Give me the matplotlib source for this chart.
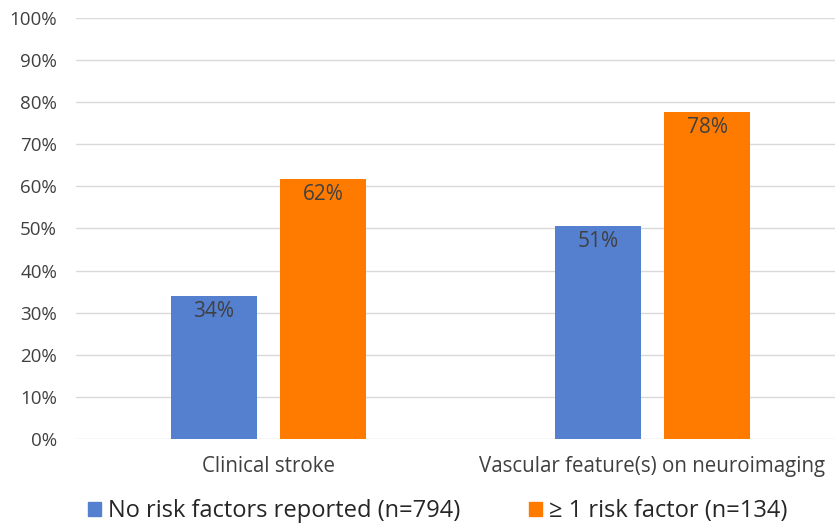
import numpy as np
import matplotlib.pyplot as plt
from matplotlib.patches import Patch

# --------------------------------------------------
# Data
# --------------------------------------------------

categories = ["Clinical stroke", "Vascular feature(s) on neuroimaging"]
series_names = ["No risk factors reported (n=794)", "\u2265 1 risk factor (n=134)"]
no_risk = [0.34, 0.506]
one_risk = [0.617, 0.776]
y_ticks = [0.0, 0.1, 0.2, 0.3, 0.4, 0.5, 0.6, 0.7, 0.8, 0.9, 1.0]

colors = ["#5580D0", "#FF7B00"]

plt.rcParams["font.family"] = ["Open Sans", "DejaVu Sans"]

# --------------------------------------------------
# Figure
# --------------------------------------------------

fig = plt.figure(figsize=(8.35, 5.27), dpi=100)
ax = fig.add_axes([0.0916, 0.167, 0.9198, 0.799])

x = np.arange(len(categories))
width = 0.224
offset = 0.142

for vals, off, col in zip([no_risk, one_risk], [-offset, offset], colors):
    bars = ax.bar(x + off, vals, width=width, color=col, zorder=3)
    for b, v in zip(bars, vals):
        ax.text(b.get_x() + b.get_width() / 2, v - 0.012, f"{round(v * 100)}%",
                ha="center", va="top", fontsize=15, color="#404040", zorder=4)

ax.set_xlim(-0.5, 1.5)
ax.set_ylim(0, 1.0)
ax.set_yticks(y_ticks)
ax.set_yticklabels([f"{int(round(t * 100))}%" for t in y_ticks], fontsize=13.5, color="#404040")
ax.set_xticks(x)
ax.set_xticklabels(categories, fontsize=14.8, color="#404040")
ax.tick_params(axis="both", length=0)
ax.tick_params(axis="y", pad=14)
ax.tick_params(axis="x", pad=12)

ax.grid(axis="y", color="#d9d9d9", linewidth=1, zorder=0)
for s in ax.spines.values():
    s.set_visible(False)

handles = [Patch(color=c) for c in colors]
fig.legend(handles, series_names, loc="center", bbox_to_anchor=(0.524, 0.03),
           ncol=2, frameon=False, fontsize=17, handlelength=0.55, handleheight=0.55,
           handletextpad=0.3, columnspacing=2.9, labelcolor="#262626")

fig.savefig("out.png", dpi=100)
